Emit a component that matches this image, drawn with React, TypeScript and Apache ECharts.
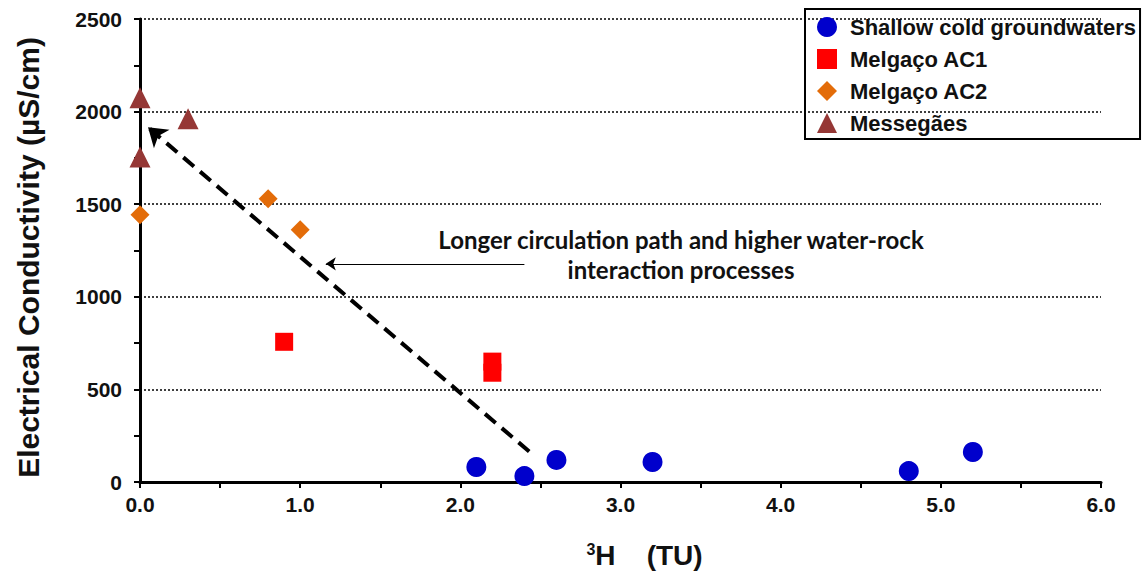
import React, { useEffect, useRef } from "react";
import * as echarts from "echarts";

const shallowData: [number, number][] = [
  [2.1, 81], [2.4, 32], [2.6, 119], [3.2, 108], [4.8, 59], [5.2, 162],
];
const ac1Data: [number, number][] = [
  [0.9, 757], [2.2, 650], [2.2, 590],
];
const ac2Data: [number, number][] = [
  [0.0, 1443], [0.8, 1530], [1.0, 1362],
];
const messegaesData: [number, number][] = [
  [0.0, 2075], [0.3, 1962], [0.0, 1755],
];
const trendArrow: [number, number][] = [[2.43, 165], [0.05, 1915]];
const pointerArrow: [number, number][] = [[2.4, 1178], [1.16, 1178]];

const FONT = "'Liberation Sans', Arial, sans-serif";

export default function App() {
  const ref = useRef<HTMLDivElement>(null);
  useEffect(() => {
    if (!ref.current) return;
    document.body.style.margin = "0";
    const chart = echarts.init(ref.current, null, { renderer: "svg" });
    chart.setOption({
      animation: false,
      backgroundColor: "#fff",
      grid: { left: 140, right: 46, top: 19, bottom: 91, outerBoundsMode: "none", containLabel: false },
      legend: {
        orient: "vertical",
        left: 805,
        top: 9,
        data: ["Shallow cold groundwaters", "Melgaço AC1", "Melgaço AC2", "Messegães"],
        padding: [7, 4, 5, 12],
        borderColor: "#000",
        borderWidth: 2,
        itemGap: 10,
        itemWidth: 20,
        itemHeight: 20,
        textStyle: { fontFamily: FONT, fontWeight: "bold", fontSize: 22, color: "#111", padding: [0, 0, 0, 8] },
      },
      xAxis: {
        type: "value",
        min: 0,
        max: 6,
        interval: 1,
        name: "{sup|3}{h|H    (TU)}",
        nameLocation: "middle",
        nameGap: 59,
        nameTextStyle: {
          padding: [0, 0, 0, 48],
          rich: {
            sup: { fontFamily: FONT, fontWeight: "bold", fontSize: 16, color: "#111", verticalAlign: "top", padding: [0, 0, 12, 0] },
            h: { fontFamily: FONT, fontWeight: "bold", fontSize: 28, color: "#111" },
          },
        },
        axisLine: { show: true, lineStyle: { color: "#000", width: 3 } },
        axisTick: { show: true, length: 6, lineStyle: { color: "#000", width: 2 } },
        minorTick: { show: true, splitNumber: 2, length: 6, lineStyle: { color: "#000", width: 2 } },
        axisLabel: {
          formatter: (v: number) => v.toFixed(1),
          fontFamily: FONT, fontWeight: "bold", fontSize: 21, color: "#111", margin: 12,
        },
        splitLine: { show: false },
      },
      yAxis: {
        type: "value",
        min: 0,
        max: 2500,
        interval: 500,
        name: "Electrical Conductivity (µS/cm)",
        nameLocation: "middle",
        nameGap: 97,
        nameRotate: 90,
        nameTextStyle: { fontFamily: FONT, fontWeight: "bold", fontSize: 30, color: "#111", padding: [0, 14, 0, 0] },
        axisLine: { show: true, lineStyle: { color: "#000", width: 3 } },
        axisTick: { show: true, length: 6, lineStyle: { color: "#000", width: 2 } },
        minorTick: { show: true, splitNumber: 2, length: 6, lineStyle: { color: "#000", width: 2 } },
        axisLabel: {
          formatter: (v: number) => String(v),
          fontFamily: FONT, fontWeight: "bold", fontSize: 21, color: "#111", margin: 18,
        },
        splitLine: { show: true, lineStyle: { color: "#000", width: 1.5, type: [2, 2] } },
      },
      series: [
        {
          name: "Shallow cold groundwaters",
          type: "scatter",
          symbol: "circle",
          symbolSize: 20,
          itemStyle: { color: "#0000CC", opacity: 1 },
          data: shallowData,
          z: 3,
          markLine: {
            silent: true,
            label: { show: false },
            emphasis: { disabled: true },
            data: [
              [
                { coord: trendArrow[0], symbol: "none", lineStyle: { color: "#000", width: 4, type: [14, 8] } },
                { coord: trendArrow[1], symbol: "arrow", symbolSize: 18 },
              ],
              [
                { coord: pointerArrow[0], symbol: "none", lineStyle: { color: "#000", width: 1, type: "solid" } },
                { coord: pointerArrow[1], symbol: "arrow", symbolSize: 10 },
              ],
            ],
          },
        },
        {
          name: "Melgaço AC1",
          type: "scatter",
          symbol: "rect",
          symbolSize: 18,
          itemStyle: { color: "#FF0000", opacity: 1 },
          data: ac1Data,
        },
        {
          name: "Melgaço AC2",
          type: "scatter",
          symbol: "diamond",
          symbolSize: 19,
          itemStyle: { color: "#E36C09", opacity: 1 },
          data: ac2Data,
        },
        {
          name: "Messegães",
          type: "scatter",
          symbol: "triangle",
          symbolSize: 21,
          itemStyle: { color: "#953735", opacity: 1 },
          data: messegaesData,
        },
      ],
      graphic: [
        {
          type: "text",
          x: 681,
          y: 254,
          style: {
            text: "Longer circulation path and higher water-rock\ninteraction processes",
            font: "bold 24px Lato, 'Open Sans', sans-serif",
            fill: "#111",
            align: "center",
            verticalAlign: "middle",
            lineHeight: 30,
          },
          z: 10,
        },
      ],
    });
    return () => chart.dispose();
  }, []);
  return <div ref={ref} style={{ width: 1147, height: 573 }} />;
}
